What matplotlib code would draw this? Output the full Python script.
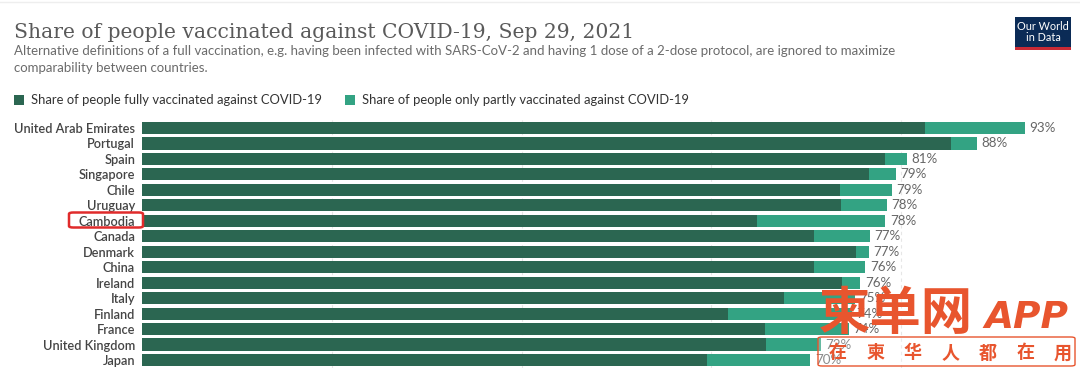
#!/usr/bin/env python3

import matplotlib.pyplot as plt
from matplotlib.patches import FancyBboxPatch, Rectangle

countries = ['United Arab Emirates', 'Portugal', 'Spain', 'Singapore', 'Chile',
             'Uruguay', 'Cambodia', 'Canada', 'Denmark', 'China', 'Ireland',
             'Italy', 'Finland', 'France', 'United Kingdom', 'Japan']
fully = [82.5, 85.3, 78.3, 76.6, 73.6, 73.7, 64.8, 70.8, 75.2, 70.8, 73.8,
         67.7, 61.8, 65.6, 65.8, 59.5]
total = [93.0, 88.0, 80.6, 79.4, 79.0, 78.5, 78.3, 76.7, 76.6, 76.2, 75.7,
         75.1, 74.8, 74.5, 71.5, 70.4]
labels = ['93%', '88%', '81%', '79%', '79%', '78%', '78%', '77%', '77%', '76%',
          '76%', '75%', '74%', '74%', '72%', '70%']
partly = [t - f for t, f in zip(total, fully)]

DARK = '#2b6651'
LIGHT = '#33a383'
W, H = 1080, 369

fig = plt.figure(figsize=(W / 100, H / 100), dpi=100)
fig.patch.set_facecolor('white')

def px(x, y):
    # pixel coords (from top-left) to figure fraction
    return x / W, 1 - y / H

# axes for bars
ax_left, ax_right = 142, 1042
ax_top, ax_bot = 120.3, 367.7
ax = fig.add_axes([ax_left / W, 1 - ax_bot / H, (ax_right - ax_left) / W, (ax_bot - ax_top) / H])
px_per_pct = 9.49
ax.set_xlim(0, (ax_right - ax_left) / px_per_pct)
ax.set_ylim(len(countries) - 0.5, -0.5)
for g in [20, 40, 60, 80]:
    ax.axvline(g, color='#e6e6e6', linewidth=0.8, linestyle=(0, (3, 3)), zorder=0)

ypos = list(range(len(countries)))
ax.barh(ypos, fully, height=0.78, color=DARK, zorder=2)
ax.barh(ypos, partly, left=fully, height=0.78, color=LIGHT, zorder=2)
for y, t, lab in zip(ypos, total, labels):
    ax.text(t + 0.5, y, lab, va='center', ha='left', fontsize=9.6,
            color='#666666', family='Lato', zorder=3)
ax.set_yticks(ypos)
ax.set_yticklabels(countries, fontsize=9.2, color='#444444', family='Lato', fontweight='semibold')
ax.tick_params(axis='y', length=0, pad=5)
ax.set_xticks([])
for s in ax.spines.values():
    s.set_visible(False)

# red box around Cambodia label
cb = FancyBboxPatch(px(69, 227.5), 74 / W, 15 / H, boxstyle='round,pad=0,rounding_size=0.004',
                    transform=fig.transFigure, fill=False, edgecolor='#e02b2b', linewidth=1.8)
fig.patches.append(cb)

# top rule
fig.add_artist(plt.Line2D([0, 1], [1 - 2 / H, 1 - 2 / H], color='#eeeeee', linewidth=1))

# title, subtitle
fig.text(*px(14, 38), 'Share of people vaccinated against COVID-19, Sep 29, 2021',
         fontsize=14.6, color='#5a5a5a', family='DejaVu Serif', va='baseline')
fig.text(*px(14, 55), 'Alternative definitions of a full vaccination, e.g. having been infected with '
         'SARS-CoV-2 and having 1 dose of a 2-dose protocol, are ignored to maximize',
         fontsize=9.55, color='#6b6b6b', family='Lato', va='baseline')
fig.text(*px(14, 72), 'comparability between countries.',
         fontsize=9.55, color='#6b6b6b', family='Lato', va='baseline')

# legend
for x0, col, txt in [(14, DARK, 'Share of people fully vaccinated against COVID-19'),
                     (345, LIGHT, 'Share of people only partly vaccinated against COVID-19')]:
    fig.patches.append(Rectangle(px(x0, 105), 10 / W, 10 / H, transform=fig.transFigure,
                                 facecolor=col, edgecolor='none'))
    fig.text(*px(x0 + 17, 100), txt, fontsize=9.4, color='#333333', family='Lato', va='center')

# logo
fig.patches.append(Rectangle(px(1015, 50), 56 / W, 33 / H, transform=fig.transFigure,
                             facecolor='#0b2b56', edgecolor='none'))
fig.patches.append(Rectangle(px(1015, 50), 56 / W, 3 / H, transform=fig.transFigure,
                             facecolor='#c92a35', edgecolor='none'))
fig.text(*px(1043, 32), 'Our World\nin Data', fontsize=7.8, color='white', family='Lato',
         ha='center', va='center', linespacing=1.0)

# watermark
fig.text(*px(819, 329), '柬单网', fontsize=37, color='#e8552e', family='Noto Sans CJK SC',
         fontweight='bold', va='baseline')
fig.text(*px(984, 328), 'APP', fontsize=27, color='#e8552e', family='DejaVu Sans',
         fontweight='bold', style='italic', va='baseline')
wm = FancyBboxPatch(px(818, 366), 257 / W, 29 / H, boxstyle='round,pad=0,rounding_size=0.004',
                    transform=fig.transFigure, facecolor=(1, 1, 1, 0.25),
                    edgecolor='#e8552e', linewidth=1.0)
fig.patches.append(wm)
for i, ch in enumerate('在柬华人都在用'):
    fig.text(*px(838 + i * 37.5, 353), ch, fontsize=13, color='#e8552e',
             family='Noto Sans CJK SC', fontweight='bold', ha='center', va='center')

fig.savefig('out.png', dpi=100, facecolor='white')
